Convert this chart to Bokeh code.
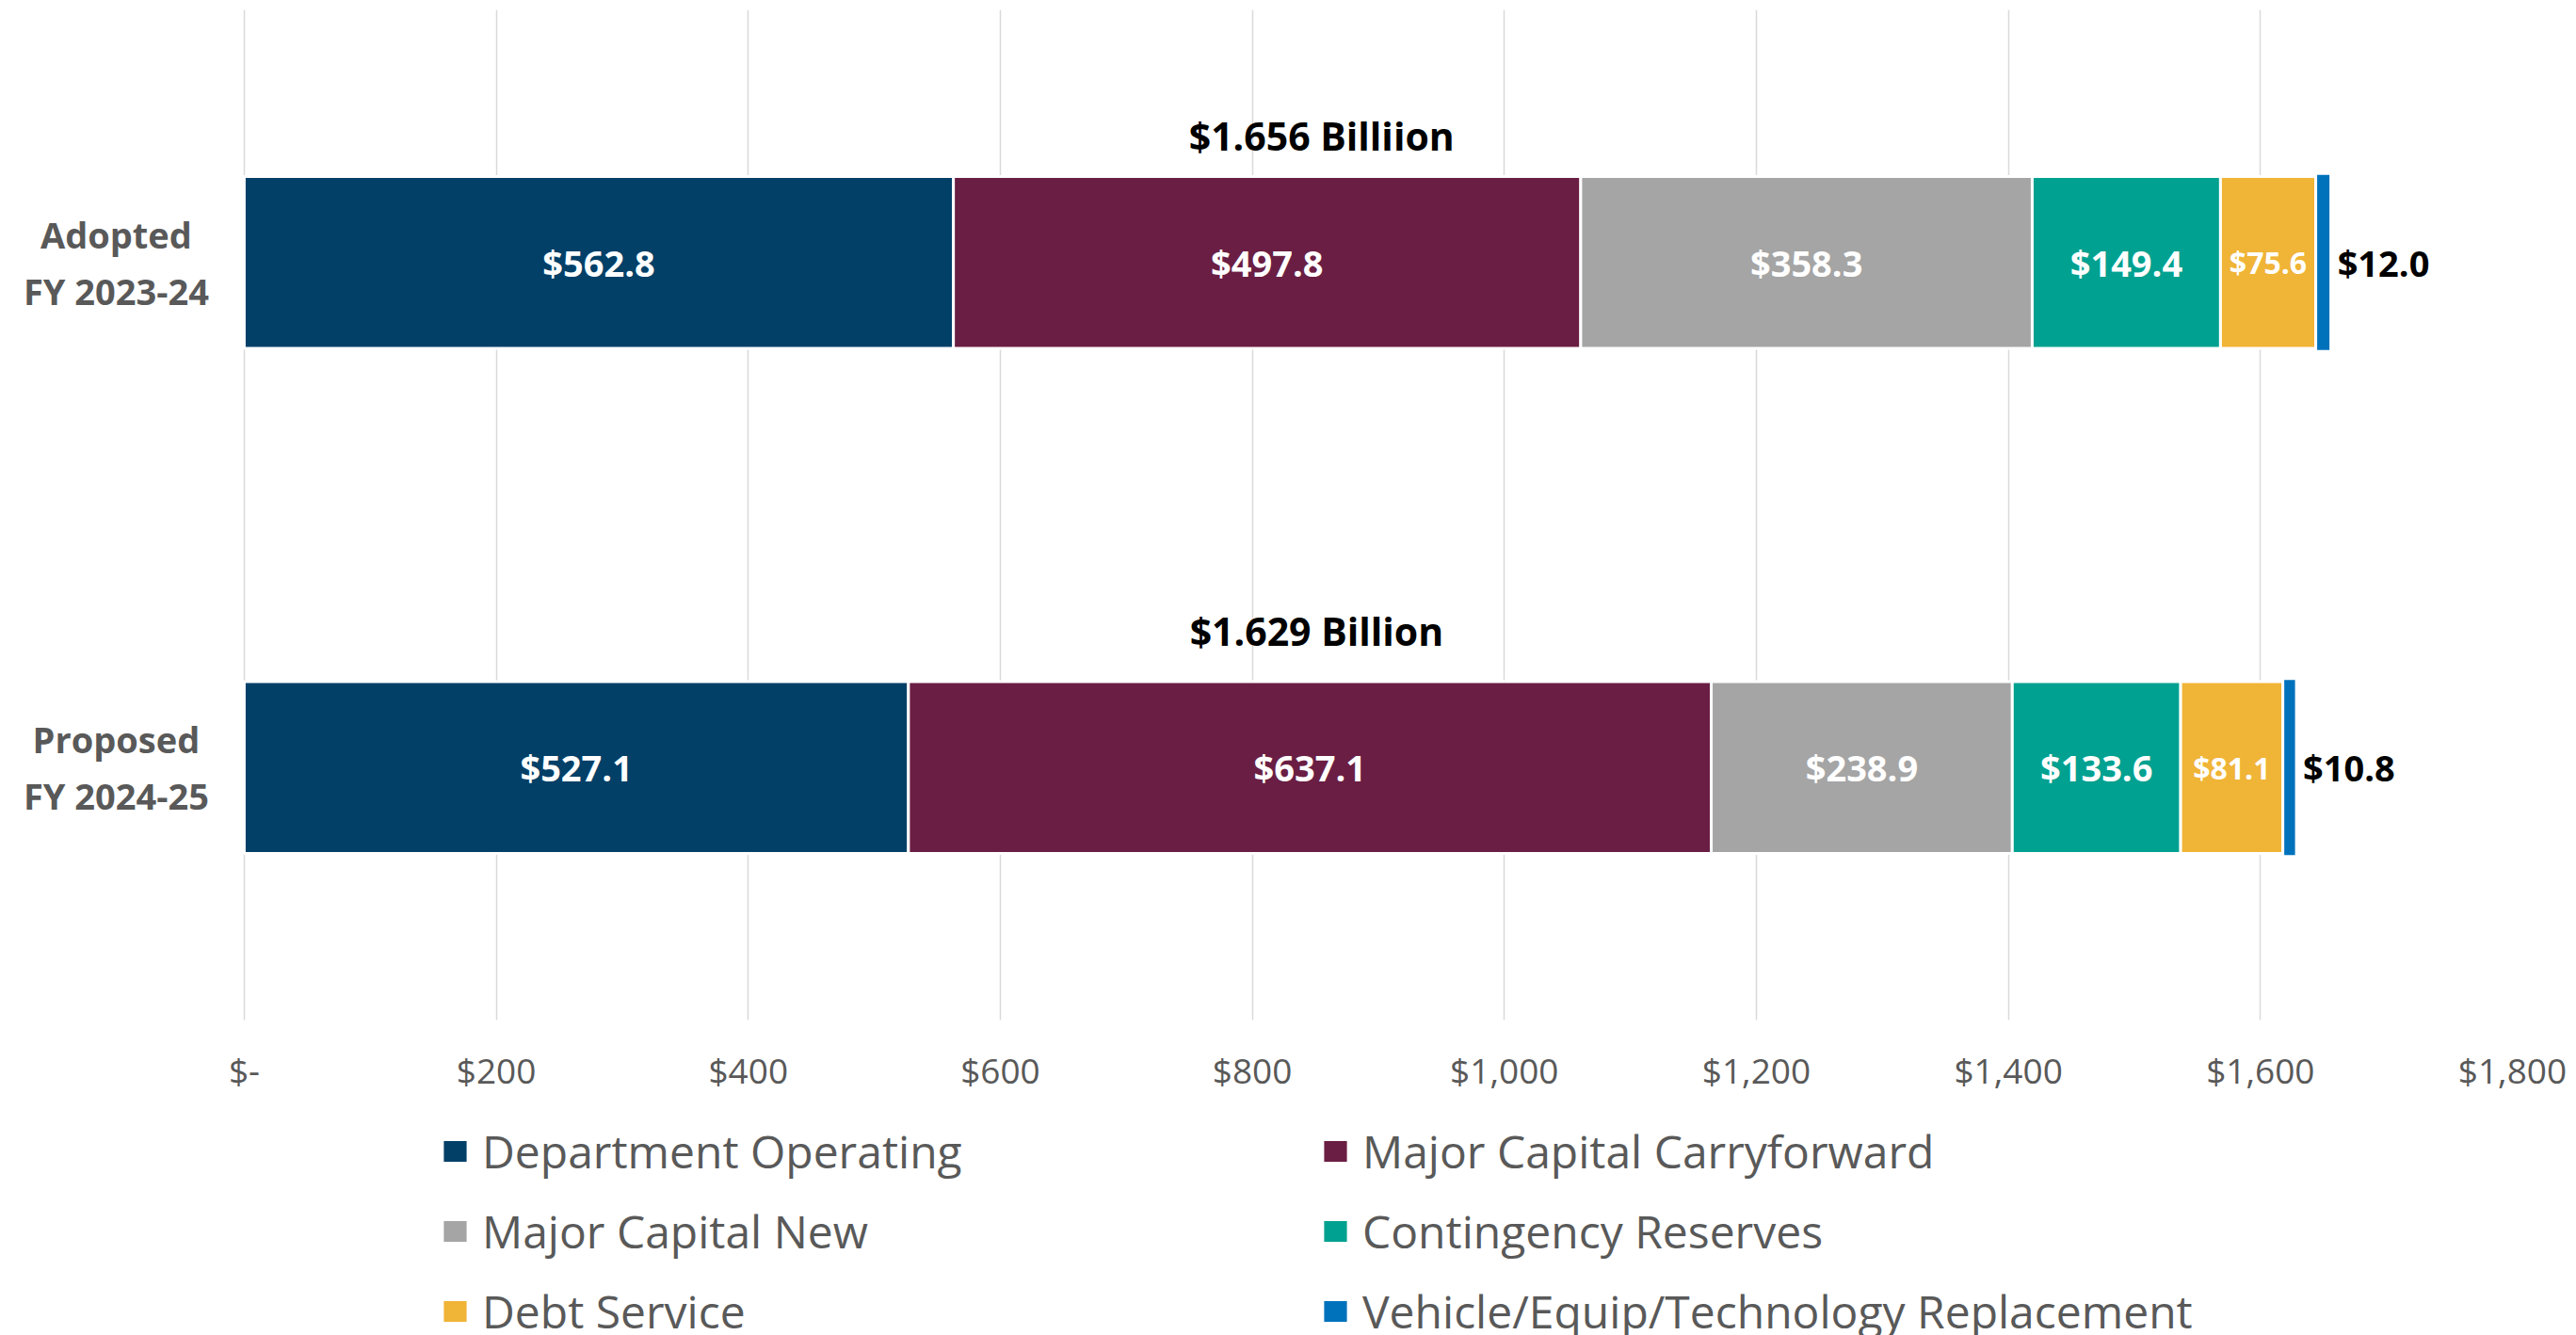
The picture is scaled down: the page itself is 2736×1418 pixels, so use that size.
import numpy as np
from bokeh.plotting import figure
from bokeh.layouts import column
from bokeh.models import ColumnDataSource, FactorRange, Range1d, FixedTicker, Legend, LegendItem
from bokeh.core.properties import value
from bokeh.embed import file_html
from bokeh.resources import INLINE

# ---------------- data ----------------
categories = ["Adopted FY 2023-24", "Proposed FY 2024-25"]
category_labels = ["Adopted\nFY 2023-24", "Proposed\nFY 2024-25"]
series_names = [
    "Department Operating",
    "Major Capital Carryforward",
    "Major Capital New",
    "Contingency Reserves",
    "Debt Service",
    "Vehicle/Equip/Technology Replacement",
]
adopted = [562.8, 497.8, 358.3, 149.4, 75.6, 12.0]
proposed = [527.1, 637.1, 238.9, 133.6, 81.1, 10.8]
totals_text = ["$1.656 Billiion", "$1.629 Billion"]
tick_values = [0, 200, 400, 600, 800, 1000, 1200, 1400, 1600, 1800]
tick_labels = ["$-", "$200", "$400", "$600", "$800", "$1,000", "$1,200", "$1,400", "$1,600", "$1,800"]

colors = ["#024068", "#6A1E43", "#A5A5A5", "#00A190", "#F0B437", "#0072BC"]
FONT = "Open Sans"
GRAY_TXT = "#595959"

W = 2736
MAIN_H = 1175
LEG_H = 243

# ---------------- main figure ----------------
p = figure(
    width=W, height=MAIN_H,
    y_range=FactorRange(*reversed(categories), range_padding=0, factor_padding=0),
    x_range=Range1d(-180, 1800),
    output_backend="svg", toolbar_location=None,
    min_border_left=18, min_border_right=68, min_border_top=10, min_border_bottom=92,
)
p.outline_line_color = None
p.background_fill_color = "white"
p.border_fill_color = "white"
p.yaxis.visible = False
p.ygrid.grid_line_color = None

xa = p.xaxis[0]
xa.ticker = FixedTicker(ticks=tick_values)
xa.major_label_overrides = {v: l for v, l in zip(tick_values, tick_labels)}
xa.axis_line_color = None
xa.major_tick_line_color = None
xa.major_tick_out = 0
xa.major_tick_in = 0
xa.minor_tick_line_color = None
xa.major_label_text_font = FONT
xa.major_label_text_font_size = "37px"
xa.major_label_text_color = GRAY_TXT
xa.major_label_standoff = 27
p.xgrid.grid_line_color = "#D9D9D9"
p.xgrid.grid_line_width = 1.5

# ---------------- stacked bars ----------------
rows = [adopted, proposed]
cum = [0.0, 0.0]
for i, name in enumerate(series_names):
    vals = [rows[0][i], rows[1][i]]
    left = cum[:]
    right = [left[k] + vals[k] for k in range(2)]
    cum = right
    src = ColumnDataSource(dict(
        y=categories, left=left, right=right,
        mid=[(l + r) / 2 for l, r in zip(left, right)],
        txt=[f"${v:.1f}" for v in vals],
    ))
    h = 0.352 if i == 5 else 0.34
    p.hbar(y="y", left="left", right="right", height=h, source=src,
           fill_color=colors[i], line_color="white", line_width=3)
    if i < 5:
        p.text(x="mid", y="y", text="txt", source=src,
               text_font=value(FONT), text_font_style="bold",
               text_font_size="32px" if i == 4 else "38px",
               text_color="white", text_align="center", text_baseline="middle")
    else:
        p.text(x="right", y="y", text="txt", source=src, x_offset=7,
               text_font=value(FONT), text_font_style="bold", text_font_size="38px",
               text_color="black", text_align="left", text_baseline="middle")

# totals above bars
tot_src = ColumnDataSource(dict(y=categories, x=[855, 851], yo=[-135, -145], t=totals_text))
p.text(x="x", y="y", text="t", y_offset="yo", source=tot_src,
       text_font=value(FONT), text_font_style="bold", text_font_size="41px",
       text_color="black", text_align="center", text_baseline="middle")

# category labels
cat_src = ColumnDataSource(dict(y=categories, x=[0, 0], t=category_labels))
p.text(x="x", y="y", text="t", x_offset=-136, source=cat_src,
       text_font=value(FONT), text_font_style="bold", text_font_size="38px",
       text_color=GRAY_TXT, text_align="center", text_baseline="middle",
       text_line_height=1.16)

# ---------------- legend figure ----------------
lf = figure(
    width=W, height=LEG_H, x_range=Range1d(0, 1), y_range=Range1d(0, 1),
    output_backend="svg", toolbar_location=None,
    min_border_left=0, min_border_right=0, min_border_top=0, min_border_bottom=0,
)
lf.axis.visible = False
lf.grid.visible = False
lf.outline_line_color = None
leg_renderers = []
for i, name in enumerate(series_names):
    # a single not-a-number row: nothing is drawn, but the legend swatch is
    stub = ColumnDataSource(dict(y=np.array([np.nan]), left=np.array([np.nan]),
                                 right=np.array([np.nan])))
    r = lf.hbar(y="y", left="left", right="right", height=0.5, source=stub,
                fill_color=colors[i], line_color="white", line_width=3)
    leg_renderers.append(r)

legend = Legend(
    items=[LegendItem(label=n, renderers=[r]) for n, r in zip(series_names, leg_renderers)],
    orientation="horizontal", ncols=2,
    location=(448, -7),
    label_text_font=FONT, label_text_font_size="48px", label_text_color=GRAY_TXT,
    glyph_width=34, glyph_height=31, label_standoff=12,
    label_height=66, label_width=870, spacing=19, padding=0, margin=0,
    border_line_color=None, background_fill_alpha=0,
)
lf.add_layout(legend, "center")

layout = column(p, lf, spacing=0)
open("out.html", "w").write(file_html(layout, INLINE))
